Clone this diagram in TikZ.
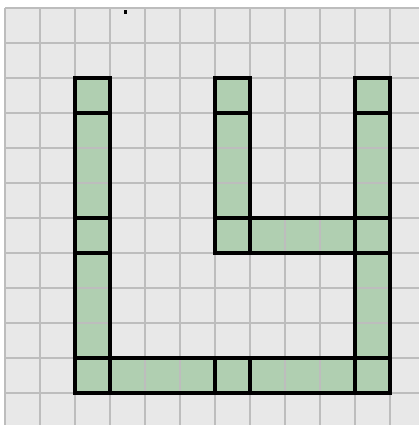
\documentclass[tikz,border=0pt]{standalone}
\definecolor{bgc}{HTML}{E8E8E8}
\definecolor{gridc}{HTML}{BDBDBD}
\definecolor{cellc}{HTML}{B0CFB1}
\tikzset{
  gridline/.style={draw=gridc, line width=1.2pt},
  cellfill/.style={fill=cellc},
  seg/.style={draw=black, line width=3.4pt, line join=miter}
}
\newcommand{\seg}[4]{\draw[seg] ({5+35*#1},{8+35*#2}) rectangle ({5+35*(#3+1)},{8+35*(#4+1)});}
\begin{document}
\begin{tikzpicture}[x=1pt,y=-1pt]
\useasboundingbox (0,0) rectangle (419,425);
\fill[bgc] (5,8) rectangle (419,425);
% green cells
\fill[cellfill] (75,78) rectangle (110,393);
\fill[cellfill] (355,78) rectangle (390,393);
\fill[cellfill] (215,78) rectangle (250,253);
\fill[cellfill] (75,358) rectangle (390,393);
\fill[cellfill] (215,218) rectangle (390,253);
% grid
\foreach \i in {0,...,11} \draw[gridline] ({5+35*\i},8) -- ({5+35*\i},425);
\foreach \j in {0,...,11} \draw[gridline] (5,{8+35*\j}) -- (419,{8+35*\j});
% dot
\fill[black] (123.5,10.5) rectangle (127,14);
% segments: left column
\seg{2}{2}{2}{2}
\seg{2}{3}{2}{5}
\seg{2}{6}{2}{6}
\seg{2}{7}{2}{9}
\seg{2}{10}{2}{10}
% right column
\seg{10}{2}{10}{2}
\seg{10}{3}{10}{5}
\seg{10}{6}{10}{6}
\seg{10}{7}{10}{9}
\seg{10}{10}{10}{10}
% middle column
\seg{6}{2}{6}{2}
\seg{6}{3}{6}{5}
\seg{6}{6}{6}{6}
% bottom row
\seg{3}{10}{5}{10}
\seg{6}{10}{6}{10}
\seg{7}{10}{9}{10}
% middle row
\seg{7}{6}{9}{6}
\end{tikzpicture}
\end{document}
